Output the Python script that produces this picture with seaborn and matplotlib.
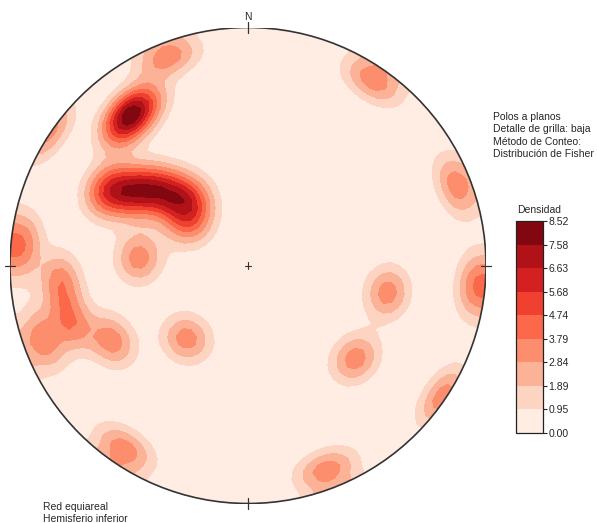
import numpy as np
import matplotlib.pyplot as plt
from matplotlib.patches import Circle
import seaborn as sns

sns.set_style("white")
plt.rcParams['font.family'] = ['Liberation Sans', 'DejaVu Sans']

# ============================================================
# Data: poles to planes (trend, plunge in degrees)
# ============================================================
pole_trend = [322, 318, 326,                      # upper cluster
              298, 300, 304, 309, 313, 318, 306,  # lower elongated cluster
              339, 34, 69, 95, 275,
              274, 265, 252, 250, 241, 220,
              101, 131, 124, 214, 159]
pole_plunge = [21, 23, 19,
               32, 38, 43.5, 48, 54, 60, 65,
               7, 7, 7, 5, 6,
               52, 22, 23, 9, 35, 57,
               40, 40, 1.5, 8, 9]

level_values = [0.00, 0.95, 1.89, 2.84, 3.79, 4.74, 5.68, 6.63, 7.58, 8.52]
info_lines = ["Polos a planos", "Detalle de grilla: baja",
              "Método de Conteo:", "Distribución de Fisher"]
net_lines = ["Red equiareal", "Hemisferio inferior"]
KAPPA = 100

# ============================================================
# Fisher counting on a coarse equal-area grid (lower hemisphere)
# ============================================================
g = np.linspace(-1.05, 1.05, 71)
X, Y = np.meshgrid(g, g)
R = np.clip(np.hypot(X, Y), 0, np.sqrt(2))
theta = 2 * np.arcsin(R / np.sqrt(2))
az = np.arctan2(X, Y)
cells = np.stack([np.sin(theta) * np.sin(az),
                  np.sin(theta) * np.cos(az),
                  -np.cos(theta)], axis=-1)

t = np.radians(pole_trend)
p = np.radians(pole_plunge)
poles = np.stack([np.cos(p) * np.sin(t), np.cos(p) * np.cos(t), -np.sin(p)], axis=-1)

Z = np.exp(KAPPA * (np.abs(cells @ poles.T) - 1)).sum(axis=-1)
Z = Z / Z[np.hypot(X, Y) <= 1].max() * level_values[-1]

# ============================================================
# Plot
# ============================================================
cmap = sns.color_palette("Reds", as_cmap=True)

fig = plt.figure(figsize=(5.97, 5.23), dpi=100)
ax = fig.add_axes([10 / 597, 19.5 / 523, 476 / 597, 476 / 523])
ax.set_xlim(-1, 1)
ax.set_ylim(-1, 1)
ax.set_aspect('equal')
ax.axis('off')

cf = ax.contourf(X, Y, Z, levels=level_values, cmap=cmap)
rim = Circle((0, 0), 1, transform=ax.transData, fc='none', ec='#333333', lw=1.2, zorder=3)
cf.set_clip_path(rim)
ax.add_patch(rim)

# cardinal ticks and centre cross
tk = 0.022
ax.plot([0, 0], [1 - tk, 1 + tk], color='#333333', lw=0.9, clip_on=False, zorder=4)
ax.plot([0, 0], [-1 - tk, -1 + tk], color='#333333', lw=0.9, clip_on=False, zorder=4)
ax.plot([1 - tk, 1 + tk], [0, 0], color='#333333', lw=0.9, clip_on=False, zorder=4)
ax.plot([-1 - tk, -1 + tk], [0, 0], color='#333333', lw=0.9, clip_on=False, zorder=4)
cc = 0.014
ax.plot([-cc, cc], [0, 0], color='#333333', lw=0.8, zorder=4)
ax.plot([0, 0], [-cc, cc], color='#333333', lw=0.8, zorder=4)
ax.text(0, 1.045, "N", ha='center', va='center', fontsize=7.5, clip_on=False)

# colorbar
cax = fig.add_axes([516 / 597, (523 - 433) / 523, 27 / 597, 212 / 523])
cb = fig.colorbar(cf, cax=cax, ticks=level_values)
cb.ax.set_yticklabels([f"{v:.2f}" for v in level_values])
cb.ax.tick_params(length=3, width=0.8, labelsize=7.5, pad=1)
cb.outline.set_linewidth(0.9)
cb.outline.set_edgecolor('#222222')
cax.text(0.85, 1.03, "Densidad", transform=cax.transAxes, ha='center', va='bottom',
         fontsize=7.5)

fig.text(493 / 597, 1 - 112 / 523, "\n".join(info_lines), va='top', ha='left',
         fontsize=7.5, linespacing=1.3)
fig.text(43 / 597, 1 - 502 / 523, "\n".join(net_lines), va='top', ha='left',
         fontsize=7.5, linespacing=1.3)

fig.savefig("out.png", dpi=100)
